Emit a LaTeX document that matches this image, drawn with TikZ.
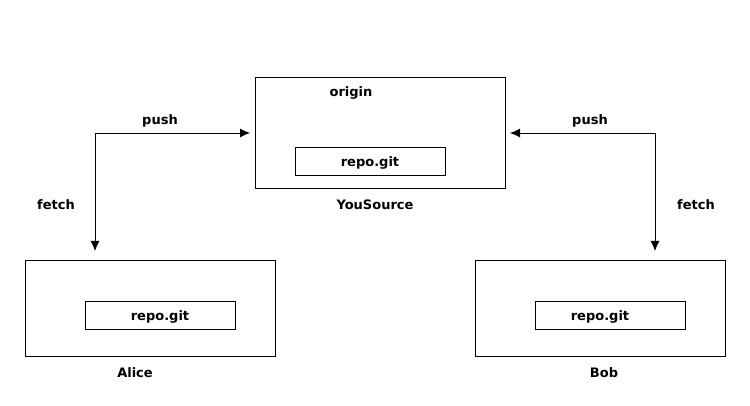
\documentclass[tikz,border=0pt]{standalone}
\usepackage{fontspec}
\setmainfont{DejaVu Sans}
\usetikzlibrary{arrows.meta}
\begin{document}
\begin{tikzpicture}[x=1pt,y=-1pt,
  box/.style={draw,line width=0.8pt,inner sep=0pt,anchor=north west},
  lbl/.style={font=\bfseries\fontsize{13}{15}\selectfont},
  conn/.style={line width=0.8pt,{Latex[length=10pt,width=9pt]}-{Latex[length=10pt,width=9pt]}}]
\useasboundingbox (0,0) rectangle (750,406);
% boxes
\node[box,minimum width=250pt,minimum height=111pt] (src) at (255,77) {};
\node[box,minimum width=150pt,minimum height=28pt] (srcrepo) at (295,147) {};
\node[lbl] at (351,93) {origin};
\node[lbl] at (370,163) {repo.git};
\node[lbl] (ys) at (375,205) {YouSource};
\node[box,minimum width=250pt,minimum height=96pt] (alice) at (25,260) {};
\node[box,minimum width=150pt,minimum height=28pt] (arepo) at (85,301) {};
\node[lbl] at (160,317) {repo.git};
\node[lbl] (al) at (135,373) {Alice};
\node[box,minimum width=250pt,minimum height=96pt] (bob) at (475,260) {};
\node[box,minimum width=150pt,minimum height=28pt] (brepo) at (535,301) {};
\node[lbl] at (600,317) {repo.git};
\node[lbl] (bb) at (604,373) {Bob};
% connectors
\coordinate (la) at (95,251);
\coordinate (lc) at (95,133);
\coordinate (ls) at (250,133);
\coordinate (rs) at (510,133);
\coordinate (rc) at (655,133);
\coordinate (rb) at (655,251);
\draw[conn] (la) -- (lc) -- (ls);
\draw[conn] (rs) -- (rc) -- (rb);
\node[lbl] at (160,121) {push};
\node[lbl] at (56,205) {fetch};
\node[lbl] at (590,121) {push};
\node[lbl] at (696,205) {fetch};
\end{tikzpicture}
\end{document}
